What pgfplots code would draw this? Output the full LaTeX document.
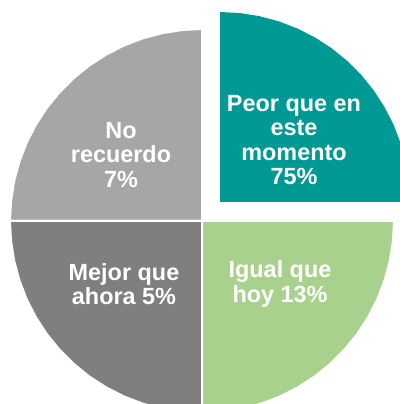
\documentclass[border=0pt]{standalone}
\usepackage{fontspec}
\setmainfont{Liberation Sans}
\usepackage{pgfplots}
\pgfplotsset{compat=1.18}
\definecolor{cTeal}{RGB}{0,153,148}
\definecolor{cLight}{RGB}{166,166,166}
\definecolor{cDark}{RGB}{127,127,127}
\definecolor{cGreen}{RGB}{169,209,142}
\begin{document}
\begin{tikzpicture}
\begin{axis}[
  x=1bp, y=1bp, scale only axis,
  xmin=-202, xmax=198, ymin=-183, ymax=221,
  hide axis, clip=true,
]
% Peor que en este momento 75% (exploded slice)
\addplot[fill=cTeal, draw=none, data cs=polar, xshift=18bp, yshift=19bp] coordinates {
 (0,0) (0,190) (6,190) (12,190) (18,190) (24,190) (30,190) (36,190) (42,190)
 (48,190) (54,190) (60,190) (66,190) (72,190) (78,190) (84,190) (90,190) (90,0)} -- cycle;
% No recuerdo 7%
\addplot[fill=cLight, draw=white, line width=2bp, data cs=polar] coordinates {
 (90,0) (90,192) (96,192) (102,192) (108,192) (114,192) (120,192) (126,192) (132,192)
 (138,192) (144,192) (150,192) (156,192) (162,192) (168,192) (174,192) (180,192) (180,0)} -- cycle;
% Mejor que ahora 5%
\addplot[fill=cDark, draw=white, line width=2bp, data cs=polar] coordinates {
 (180,0) (180,192) (186,192) (192,192) (198,192) (204,192) (210,192) (216,192) (222,192)
 (228,192) (234,192) (240,192) (246,192) (252,192) (258,192) (264,192) (270,192) (270,0)} -- cycle;
% Igual que hoy 13%
\addplot[fill=cGreen, draw=white, line width=2bp, data cs=polar] coordinates {
 (270,0) (270,192) (276,192) (282,192) (288,192) (294,192) (300,192) (306,192) (312,192)
 (318,192) (324,192) (330,192) (336,192) (342,192) (348,192) (354,192) (360,192) (360,0)} -- cycle;

\tikzset{lbl/.style={text=white, font=\fontsize{23.5}{24.5}\selectfont\bfseries, align=center, inner sep=0pt}}
\node[lbl] at (axis cs:92,81) {Peor que en\\este\\momento\\75\%};
\node[lbl] at (axis cs:-81,66) {No\\recuerdo\\7\%};
\node[lbl] at (axis cs:-78,-63) {Mejor que\\ahora 5\%};
\node[lbl] at (axis cs:78,-63) {Igual que\\hoy 13\%};
\end{axis}
\pgfresetboundingbox
\path (current axis.south west) rectangle (current axis.north east);
\end{tikzpicture}
\end{document}
